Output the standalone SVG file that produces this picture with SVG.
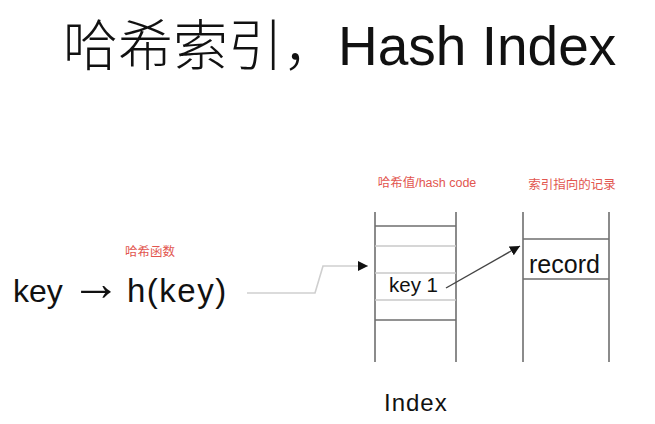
<svg xmlns="http://www.w3.org/2000/svg" width="655" height="424" viewBox="0 0 655 424">
  <style>
    .txt { font-family: "Liberation Sans", "Noto Sans CJK SC", sans-serif; fill: #111; }
    .red { font-family: "Liberation Sans", "Noto Sans CJK SC", sans-serif; fill: #e2564f; font-size: 12.5px; }
    .col { stroke: #6e6e6e; stroke-width: 1.6; fill: none; }
    .thin { stroke: #c8c8c8; stroke-width: 1.3; fill: none; }
  </style>
  <defs>
    <marker id="ah" viewBox="0 0 10 10" refX="10" refY="5" markerWidth="10" markerHeight="10" markerUnits="userSpaceOnUse" orient="auto">
      <path d="M0,0 L10,5 L0,10 z" fill="#111"/>
    </marker>
  </defs>
  <rect width="655" height="424" fill="#ffffff"/>

  <g id="title">
    <text class="txt" x="63" y="65" font-size="55" font-weight="300">哈希索引，Hash Index</text>
  </g>

  <g id="hash-function">
    <text class="red" x="125" y="256">哈希函数</text>
    <text class="txt" x="13" y="302" font-size="32">key</text>
    <text class="txt" x="71" y="300" font-size="50">→</text>
    <text class="txt" x="127" y="302" font-size="33" letter-spacing="1.5">h(key)</text>
  </g>

  <g id="index-table">
    <text class="red" x="427" y="187" text-anchor="middle">哈希值/hash code</text>
    <line class="col" x1="375" y1="212" x2="375" y2="362"/>
    <line class="col" x1="456" y1="212" x2="456" y2="362"/>
    <line class="col" x1="375" y1="226" x2="456" y2="226"/>
    <line class="thin" x1="375" y1="246" x2="456" y2="246"/>
    <line class="thin" x1="375" y1="273" x2="456" y2="273"/>
    <line class="thin" x1="375" y1="300" x2="456" y2="300"/>
    <line class="col" x1="375" y1="320" x2="456" y2="320"/>
    <text class="txt" x="389" y="292" font-size="20.5">key 1</text>
    <text class="txt" x="384" y="411" font-size="24" letter-spacing="1">Index</text>
  </g>

  <g id="record-table">
    <text class="red" x="572" y="189" text-anchor="middle">索引指向的记录</text>
    <line class="col" x1="523" y1="212" x2="523" y2="362"/>
    <line class="col" x1="609" y1="212" x2="609" y2="362"/>
    <line class="col" x1="523" y1="239" x2="609" y2="239"/>
    <line class="col" x1="523" y1="279" x2="609" y2="279"/>
    <text class="txt" x="529" y="273" font-size="25">record</text>
  </g>

  <g id="connectors">
    <polyline points="247,293 315,293 323,266 368,266" fill="none" stroke="#cfcfcf" stroke-width="1.6" marker-end="url(#ah)"/>
    <line x1="446" y1="288" x2="520" y2="246" stroke="#444" stroke-width="1.4" marker-end="url(#ah)"/>
  </g>
</svg>
